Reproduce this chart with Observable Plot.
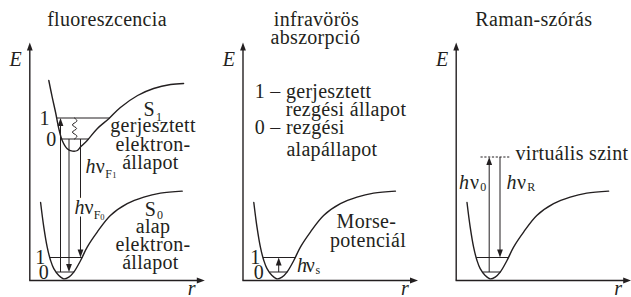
<!DOCTYPE html>
<html><head><meta charset="utf-8">
<script src="https://cdn.jsdelivr.net/npm/d3@7"></script>
<script src="https://cdn.jsdelivr.net/npm/@observablehq/plot@0.6"></script>
<style>html,body{margin:0;padding:0;background:#fff;overflow:hidden}#chart svg{display:block}
#chart svg text{font-family:"Liberation Serif","DejaVu Serif",serif;letter-spacing:0.3px}</style>
</head><body><div id="chart"></div>
<script>
// ---- data (diagram units: r = internuclear distance, E = energy) ----
const panels = ["fluoreszcencia", "infravörös abszorpció", "Raman-szórás"];
const R_MAX = 8.75, E_MAX = 11.9;

// ground-state (S0 / Morse) potential curve
const groundR = [0.54,0.70,0.87,1.04,1.20,1.45,1.70,1.95,2.20,2.54,2.87,3.37,4.03,4.87,5.70,6.53,7.62];
const groundE = [3.90,2.67,1.67,1.00,0.59,0.25,0.08,0.17,0.42,1.00,1.67,2.42,3.25,3.84,4.17,4.37,4.47];
// excited-state (S1) curve, first panel only
const excitedR = [0.95,1.12,1.29,1.45,1.62,1.87,2.13,2.38,2.53,2.87,3.37,3.95,4.53,5.39,6.19,7.04,7.69];
const excitedE = [10.0,9.17,8.40,7.60,7.00,6.59,6.47,6.50,6.67,7.00,7.59,8.09,8.65,9.25,9.60,9.80,9.85];

// vibrational levels 0 and 1
const groundLevelE  = [0.425, 1.15];
const groundLevelR1 = [1.33, 1.00];
const groundLevelR2 = [2.22, 2.63];
const excitedLevelE  = [7.075, 8.125];
const excitedLevelR1 = [1.61, 1.36];
const excitedLevelR2 = [2.95, 4.00];

// transitions: panel, r, from E, to E
const arrowP    = [0, 0, 0, 1, 2, 2];
const arrowR    = [1.535, 1.96, 2.535, 1.785, 1.65, 2.19];
const arrowFrom = [0.425, 7.075, 7.075, 0.425, 0.425, 6.175];
const arrowTo   = [8.125, 0.425, 1.15, 1.15, 6.175, 1.15];

// virtual level (Raman)
const virtualE = 6.175, virtualR = [1.215, 2.665];

// radiationless relaxation (wavy line)
const wavyR = [2.235, 2.34, 2.13, 2.34, 2.13, 2.34, 2.235];
const wavyE = [8.125, 7.95, 7.775, 7.60, 7.425, 7.25, 7.075];

// labels: [panel, text, r, E]
const titles = [[0,"fluoreszcencia",3.86,13.04],[1,"infravörös",3.67,13.05],[1,"abszorpció",3.62,12.17],[2,"Raman-szórás",3.88,13.05]];
const centerLabels = [
  [0,"S",5.97,8.55],[0,"gerjesztett",6.16,7.75],[0,"elektron-",6.16,6.80],[0,"állapot",6.03,5.89],
  [0,"1",0.74,8.12],[0,"0",1.08,7.05],[0,"1",0.535,1.14],[0,"0",0.70,0.39],
  [0,"S",6.035,3.55],[0,"alap",6.16,2.72],[0,"elektron-",6.16,1.80],[0,"állapot",6.03,0.89],
  [1,"Morse-",6.17,2.94],[1,"potenciál",6.25,2.00],[1,"1",0.625,1.14],[1,"0",0.80,0.39]
];
const startLabels = [
  [1,"1 – gerjesztett",0.585,9.47],[1,"rezgési állapot",2.135,8.55],[1,"0 – rezgési",0.585,7.64],[1,"alapállapot",2.17,6.555],
  [2,"virtuális szint",2.965,6.34]
];
const axisLabels = [["E",-0.70,11.05],["r",8.10,-0.38]];
// photon energies h·ν with subscripts
const hLabels  = [[0,2.785,5.70],[0,2.235,3.655],[1,2.70,0.77],[2,0.14,4.89],[2,2.515,4.89]];
const nuLabels = [[0,3.30,5.70],[0,2.735,3.655],[1,3.135,0.77],[2,0.69,4.89],[2,3.04,4.89]];
const subLabels = [[0,"1",6.31,8.18],[0,"0",6.36,3.29],[0,"F",3.77,5.31],[0,"F",3.20,3.275],[1,"s",3.62,0.54],[2,"0",1.20,4.68],[2,"R",3.55,4.68]];
const subSubLabels = [[0,"1",4.12,5.24],[0,"0",3.52,3.16]];
const haloed = [1]; // index into hLabels/nuLabels whose label sits over a line

// ---- drawing ----
const ink = "#231f20";
const font = "Liberation Serif";
const FS = 20;
const STEP = 10.66; // panel spacing
const X = (p, r) => r + p * STEP;
const pIdx = panels.map((_, i) => i);

const headUp    = {draw(c){ c.moveTo(0,0); c.lineTo(-2.9,8); c.lineTo(2.9,8); c.closePath(); }};
const headDown  = {draw(c){ c.moveTo(0,0); c.lineTo(-2.9,-8); c.lineTo(2.9,-8); c.closePath(); }};
const headRight = {draw(c){ c.moveTo(0,0); c.lineTo(-8,-2.9); c.lineTo(-8,2.9); c.closePath(); }};

const ground = pIdx.flatMap(p => groundR.map((r, i) => ({p, r, E: groundE[i]})));
const excited = excitedR.map((r, i) => ({p: 0, r, E: excitedE[i]}));
const levels = [
  ...pIdx.flatMap(p => groundLevelE.map((E, i) => ({p, E, r1: groundLevelR1[i], r2: groundLevelR2[i]}))),
  ...excitedLevelE.map((E, i) => ({p: 0, E, r1: excitedLevelR1[i], r2: excitedLevelR2[i]}))
];
const arrows = arrowP.map((p, i) => ({p, r: arrowR[i], from: arrowFrom[i], to: arrowTo[i]}));
const wavy = wavyR.map((r, i) => ({p: 0, r, E: wavyE[i]}));
const row = a => ({p: a[0], t: a[1], r: a[2], E: a[3]});
const hnu = (arr) => arr.map(a => ({p: a[0], r: a[1], E: a[2]}));

const txt = (data, o) => Plot.text(data, {x: d => X(d.p, d.r), y: "E", text: "t", fill: ink, fontFamily: font, fontSize: FS, ...o});

const chart = Plot.plot({
  width: 631, height: 297, margin: 0,
  x: {domain: [-1.465, 30.085], axis: null},
  y: {domain: [-0.85, 14], axis: null},
  style: {background: "white", fontFamily: font},
  marks: [
    // axes
    Plot.link(pIdx, {x1: p => X(p,0), x2: p => X(p,0), y1: 0, y2: E_MAX - 0.2, stroke: ink, strokeWidth: 1.4}),
    Plot.link(pIdx, {x1: p => X(p,0) - 0.03, x2: p => X(p,R_MAX) - 0.2, y1: 0, y2: 0, stroke: ink, strokeWidth: 1.4}),
    Plot.dot(pIdx, {x: p => X(p,0), y: E_MAX, symbol: headUp, fill: ink, stroke: "none"}),
    Plot.dot(pIdx, {x: p => X(p,R_MAX), y: 0, symbol: headRight, fill: ink, stroke: "none"}),
    // potential curves
    Plot.line(ground, {x: d => X(d.p, d.r), y: "E", z: "p", curve: "catmull-rom", stroke: ink, strokeWidth: 1.4}),
    Plot.line(excited, {x: d => X(d.p, d.r), y: "E", curve: "catmull-rom", stroke: ink, strokeWidth: 1.4}),
    // vibrational levels
    Plot.link(levels, {x1: d => X(d.p, d.r1), x2: d => X(d.p, d.r2), y1: "E", y2: "E", stroke: ink, strokeWidth: 1}),
    Plot.link([{p: 2}], {x1: d => X(d.p, virtualR[0]), x2: d => X(d.p, virtualR[1]), y1: virtualE, y2: virtualE, stroke: ink, strokeWidth: 1, strokeDasharray: "2.2,1.6"}),
    // transitions
    Plot.link(arrows, {x1: d => X(d.p, d.r), x2: d => X(d.p, d.r), y1: "from", y2: d => d.to + (d.to > d.from ? -0.2 : 0.2), stroke: ink, strokeWidth: 1}),
    Plot.dot(arrows.filter(d => d.to > d.from), {x: d => X(d.p, d.r), y: "to", symbol: headUp, fill: ink, stroke: "none"}),
    Plot.dot(arrows.filter(d => d.to < d.from), {x: d => X(d.p, d.r), y: "to", symbol: headDown, fill: ink, stroke: "none"}),
    Plot.line(wavy, {x: d => X(d.p, d.r), y: "E", curve: "natural", stroke: ink, strokeWidth: 1}),
    // halo behind label crossing a line
    Plot.text(hnu(hLabels).filter((_, i) => haloed.includes(i)), {x: d => X(d.p, d.r), y: "E", text: () => "h", textAnchor: "start", fontFamily: font, fontStyle: "italic", fontSize: FS, fill: "white", stroke: "white", strokeWidth: 5}),
    Plot.text(hnu(nuLabels).filter((_, i) => haloed.includes(i)), {x: d => X(d.p, d.r), y: "E", text: () => "ν", textAnchor: "start", fontFamily: font, fontSize: FS, fill: "white", stroke: "white", strokeWidth: 5}),
    // texts
    txt(titles.map(row), {}),
    txt(centerLabels.map(row), {}),
    txt(startLabels.map(row), {textAnchor: "start"}),
    txt(pIdx.flatMap(p => axisLabels.map(a => ({p, t: a[0], r: a[1], E: a[2]}))), {fontStyle: "italic"}),
    txt(hnu(hLabels), {text: () => "h", textAnchor: "start", fontStyle: "italic"}),
    txt(hnu(nuLabels), {text: () => "ν", textAnchor: "start"}),
    txt(subLabels.map(row), {textAnchor: "start", fontSize: 12}),
    txt(subSubLabels.map(row), {textAnchor: "start", fontSize: 8.5})
  ]
});
document.getElementById("chart").appendChild(chart);
</script>
</body></html>
